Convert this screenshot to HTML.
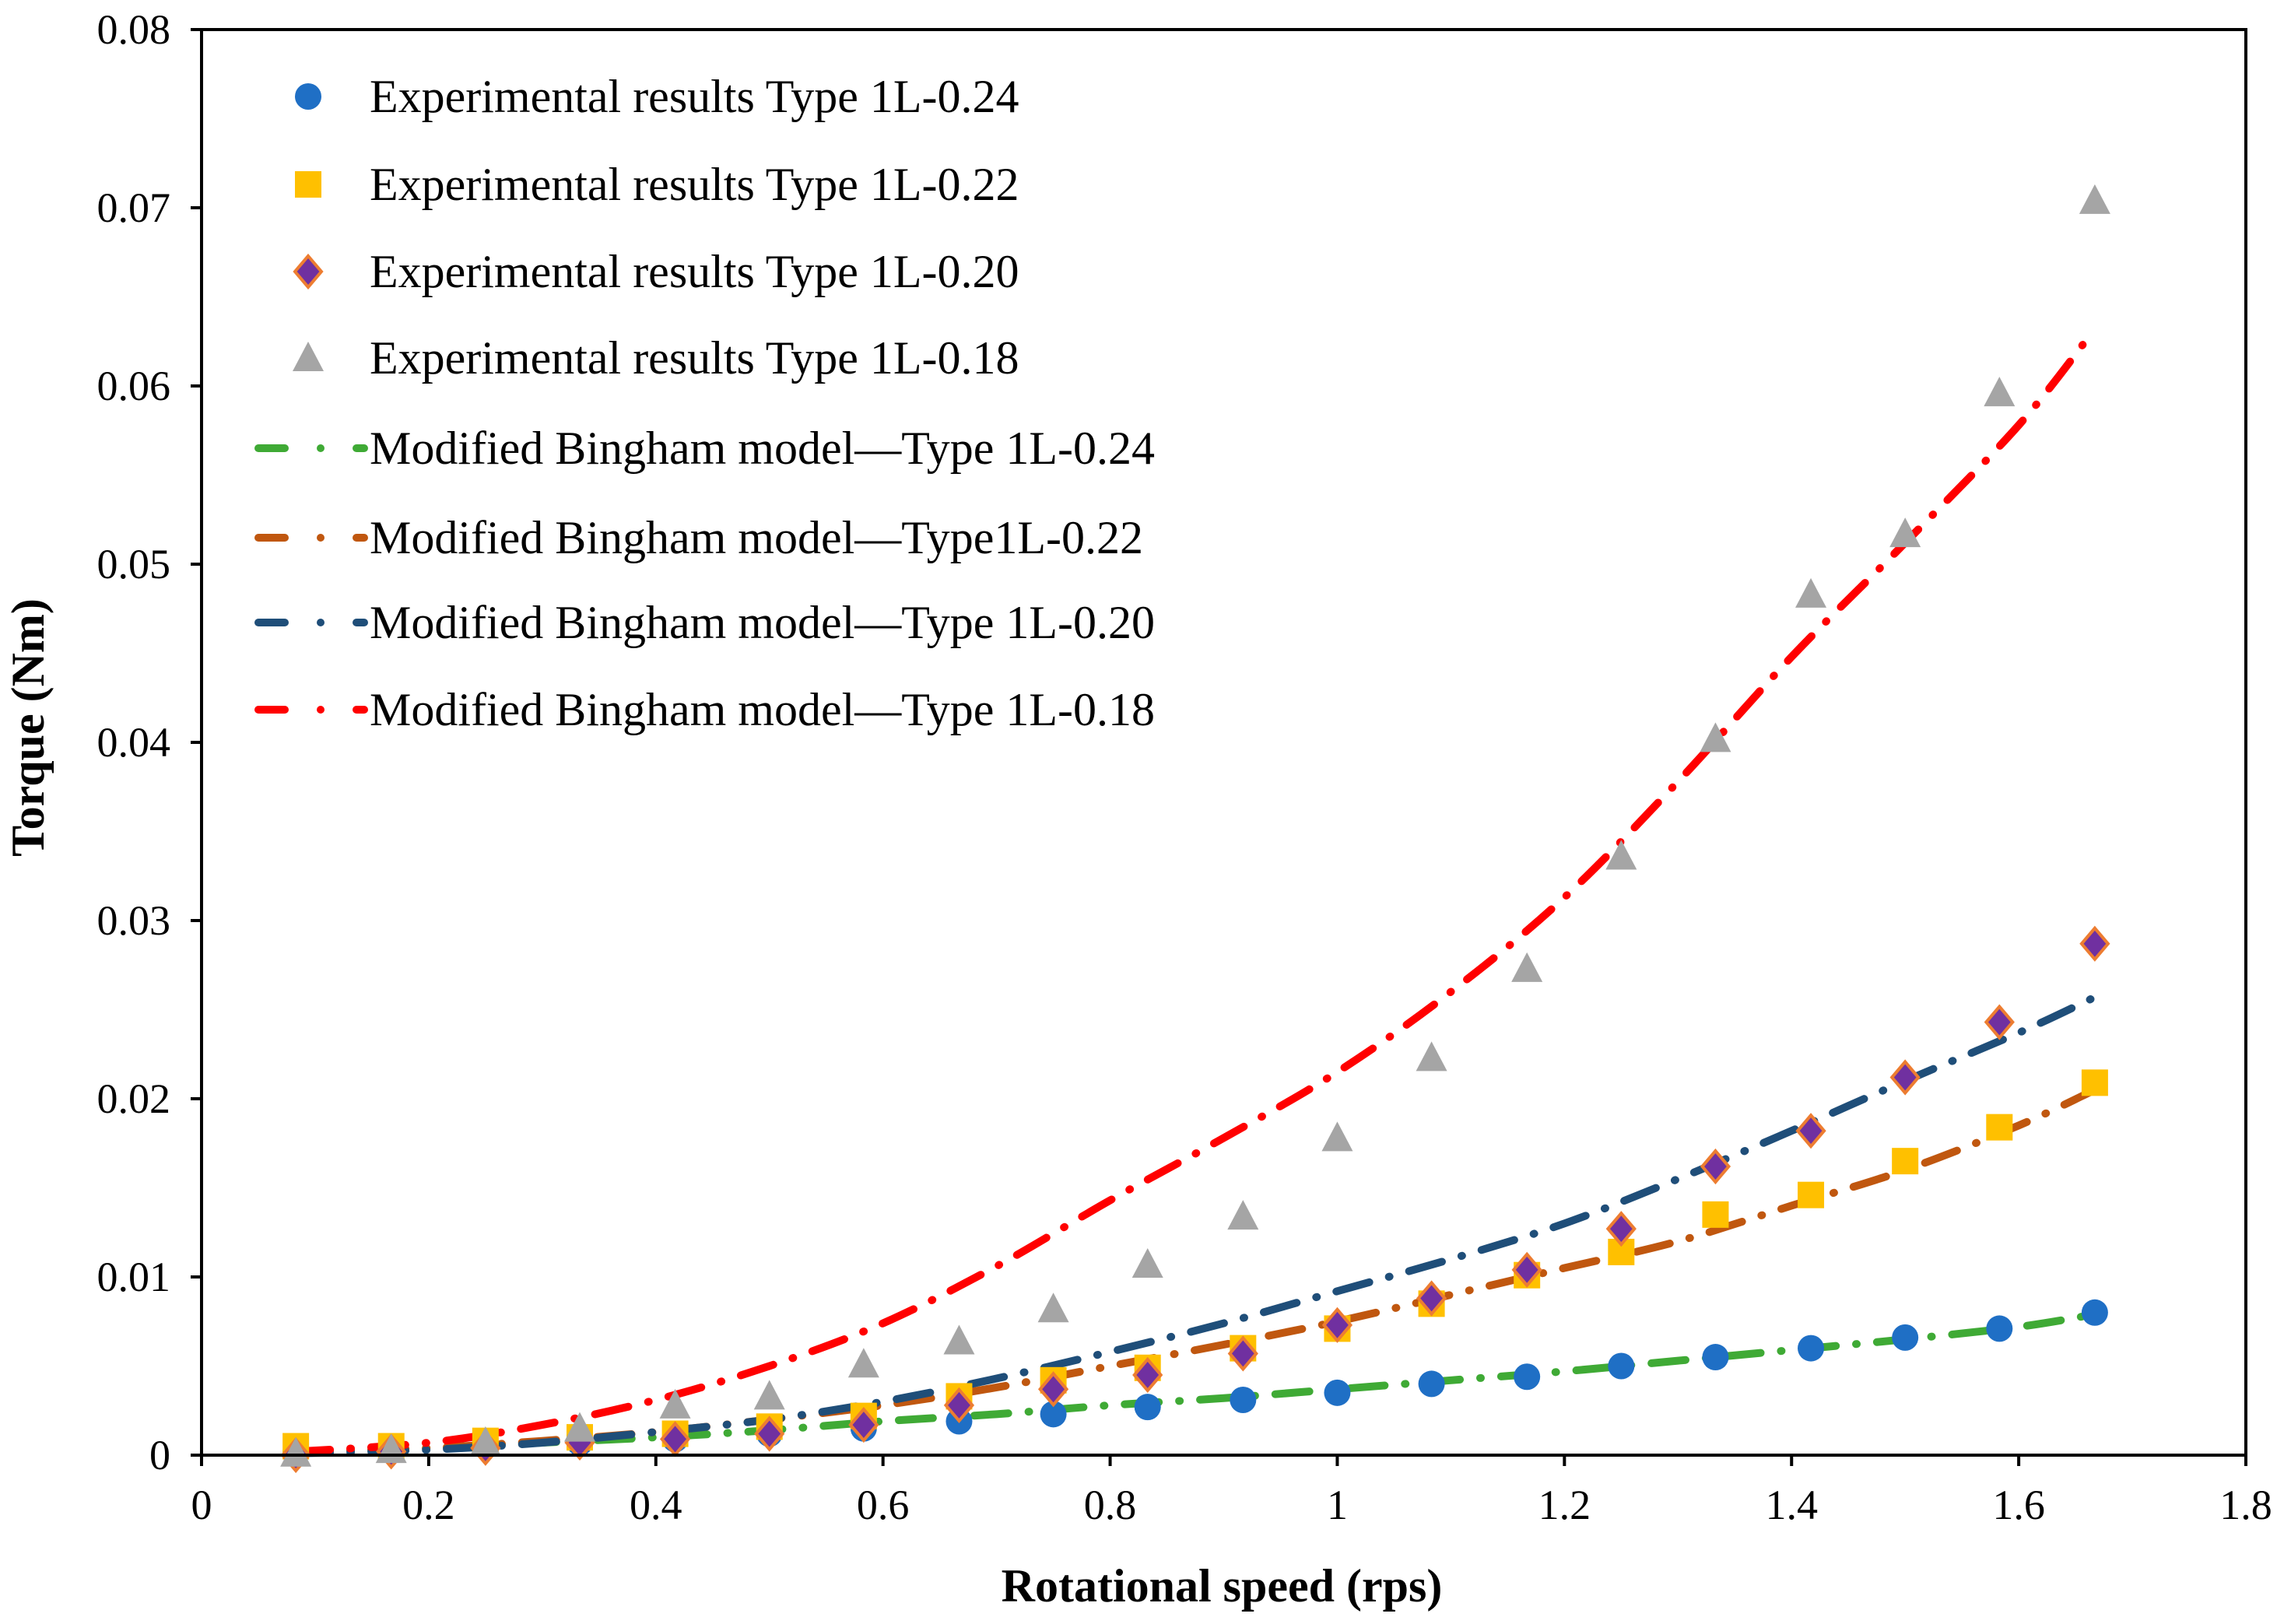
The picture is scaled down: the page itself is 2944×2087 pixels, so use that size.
<!DOCTYPE html>
<html><head><meta charset="utf-8"><style>
html,body{margin:0;padding:0;background:#fff;}
svg{display:block;font-family:"Liberation Serif",serif;}
</style></head><body>
<svg id="chart" width="2944" height="2087" viewBox="0 0 2944 2087" xmlns="http://www.w3.org/2000/svg">
<rect width="2944" height="2087" fill="#fff"/>
<g id="lines"></g>
<g id="points"></g>
<g id="axes"></g>
<g id="legend"></g>
<text x="0" y="0" transform="translate(56,935) rotate(-90)" text-anchor="middle" font-size="60" font-weight="bold">Torque (Nm)</text>
<text x="1570" y="2058" text-anchor="middle" font-size="60" font-weight="bold">Rotational speed (rps)</text>
</svg>
<script>
const xTicks=[0,0.2,0.4,0.6,0.8,1,1.2,1.4,1.6,1.8];
const xTickLabels=["0","0.2","0.4","0.6","0.8","1","1.2","1.4","1.6","1.8"];
const yTicks=[0,0.01,0.02,0.03,0.04,0.05,0.06,0.07,0.08];
const yTickLabels=["0","0.01","0.02","0.03","0.04","0.05","0.06","0.07","0.08"];
const speeds=[0.083,0.167,0.25,0.333,0.417,0.5,0.583,0.667,0.75,0.833,0.917,1.0,1.083,1.167,1.25,1.333,1.417,1.5,1.583,1.667];
const exp024=[0.0002,0.0003,0.0005,0.0007,0.0009,0.0012,0.0015,0.0019,0.0023,0.0027,0.0031,0.0035,0.004,0.0044,0.005,0.0055,0.006,0.0066,0.0071,0.008];
const exp022=[0.0005,0.0005,0.0008,0.001,0.0012,0.0016,0.0022,0.0033,0.0042,0.0049,0.006,0.0071,0.0085,0.0101,0.0114,0.0135,0.0146,0.0165,0.0184,0.0209];
const exp020=[0,0.0002,0.0004,0.0007,0.0009,0.0012,0.0017,0.0028,0.0037,0.0045,0.0057,0.0073,0.0088,0.0104,0.0127,0.0162,0.0182,0.0212,0.0243,0.0287];
const exp018=[0.0001,0.0003,0.0007,0.0015,0.0028,0.0033,0.0051,0.0064,0.0082,0.0107,0.0134,0.0178,0.0223,0.0273,0.0336,0.0402,0.0483,0.0517,0.0596,0.0704];
const modelX=[0.083,0.2,0.3,0.4,0.5,0.6,0.7,0.8,0.9,1.0,1.1,1.2,1.3,1.4,1.5,1.6,1.667];
const model024=[0.0002,0.0004,0.0007,0.001,0.0014,0.0019,0.0023,0.0028,0.0032,0.0037,0.0042,0.0047,0.0053,0.0059,0.0065,0.0072,0.0079];
const model022=[0.0002,0.0004,0.0008,0.0013,0.002,0.0028,0.0038,0.005,0.0062,0.0075,0.009,0.0105,0.012,0.014,0.016,0.0185,0.0205];
const model020=[0.0001,0.0003,0.0007,0.0013,0.002,0.003,0.0043,0.0058,0.0074,0.0092,0.011,0.013,0.0155,0.0182,0.021,0.0237,0.0257];
const model018=[0.0002,0.0007,0.0017,0.0031,0.005,0.0074,0.0106,0.0143,0.0178,0.0215,0.026,0.0313,0.0378,0.0448,0.0512,0.0578,0.0632];

const NS="http://www.w3.org/2000/svg";
const X0=259,X1=2886,Y0=1870,Y1=38;
const xs=v=>X0+(v/1.8)*(X1-X0);
const ys=v=>Y0-(v/0.08)*(Y0-Y1);
function mk(tag,attrs,parent){const e=document.createElementNS(NS,tag);for(const k in attrs)e.setAttribute(k,attrs[k]);parent.appendChild(e);return e;}
const axes=document.getElementById('axes'),lines=document.getElementById('lines'),pts=document.getElementById('points'),leg=document.getElementById('legend');

let fr=mk('rect',{x:X0,y:Y1,width:X1-X0,height:Y0-Y1,fill:'none',stroke:'#000','stroke-width':4},axes);


xTicks.forEach((t,i)=>{
  const tk=mk('line',{x1:xs(t),x2:xs(t),y1:Y0,y2:Y0+14,stroke:'#000','stroke-width':4},axes);
  
  
  const lb=mk('text',{x:xs(t),y:Y0+82,'text-anchor':'middle','font-size':54},axes);
  lb.textContent=xTickLabels[i];
  
  
});
yTicks.forEach((t,i)=>{
  const tk=mk('line',{x1:X0-14,x2:X0,y1:ys(t),y2:ys(t),stroke:'#000','stroke-width':4},axes);
  
  
  const lb=mk('text',{x:X0-40,y:ys(t)+18,'text-anchor':'end','font-size':54},axes);
  lb.textContent=yTickLabels[i];
  
  
});

function smoothPath(xa,ya){
  const p=xa.map((x,i)=>[xs(x),ys(ya[i])]);
  let d=`M${p[0][0]},${p[0][1]}`;
  for(let i=0;i<p.length-1;i++){
    const p0=p[i-1]||p[i],p1=p[i],p2=p[i+1],p3=p[i+2]||p2;
    const c1=[p1[0]+(p2[0]-p0[0])/6,p1[1]+(p2[1]-p0[1])/6];
    const c2=[p2[0]-(p3[0]-p1[0])/6,p2[1]-(p3[1]-p1[1])/6];
    d+=` C${c1[0]},${c1[1]} ${c2[0]},${c2[1]} ${p2[0]},${p2[1]}`;
  }
  return d;
}
const DASH='44 26 1 26';
function modelLine(ya,color,name){
  const e=mk('path',{d:smoothPath(modelX,ya),fill:'none',stroke:color,'stroke-width':10,'stroke-dasharray':DASH,'stroke-linecap':'round'},lines);
  
  
}

function circle(x,y,g){return mk('circle',{cx:x,cy:y,r:17,fill:'#1f6fc5'},g);}
function square(x,y,g){return mk('rect',{x:x-17,y:y-17,width:34,height:34,fill:'#ffc000'},g);}
function diamond(x,y,g){return mk('polygon',{points:`${x},${y-20} ${x+17},${y} ${x},${y+20} ${x-17},${y}`,fill:'#7030a0',stroke:'#ed7d31','stroke-width':4},g);}
function tri(x,y,g){return mk('polygon',{points:`${x},${y-21} ${x+20},${y+17} ${x-20},${y+17}`,fill:'#a5a5a5'},g);}
function series(vals,fn,name){
  vals.forEach((v,i)=>{
    const e=fn(xs(speeds[i]),ys(v),pts);
    
    
  });
}
series(exp024,circle,'point-1l-024');
series(exp022,square,'point-1l-022');
series(exp020,diamond,'point-1l-020');
modelLine(model024,'#3faa35','model-line-1l-024');
modelLine(model022,'#c0570f','model-line-1l-022');
modelLine(model020,'#1f4e79','model-line-1l-020');
series(exp018,tri,'point-1l-018');
modelLine(model018,'#ff0000','model-line-1l-018');

const legRows=[124,237,349,460,576,691,800,912];
const legText=["Experimental results Type 1L-0.24","Experimental results Type 1L-0.22","Experimental results Type 1L-0.20","Experimental results Type 1L-0.18","Modified Bingham model\u2014Type 1L-0.24","Modified Bingham model\u2014Type1L-0.22","Modified Bingham model\u2014Type 1L-0.20","Modified Bingham model\u2014Type 1L-0.18"];
const legMarkers=[circle,square,diamond,tri];
const legColors=['#3faa35','#c0570f','#1f4e79','#ff0000'];
legRows.forEach((y,i)=>{
  const g=mk('g',{},leg);
  
  
  if(i<4){legMarkers[i](396,y,g);}
  else{
    mk('line',{x1:332,x2:366,y1:y,y2:y,stroke:legColors[i-4],'stroke-width':10,'stroke-linecap':'round'},g);
    mk('circle',{cx:412,cy:y,r:5,fill:legColors[i-4]},g);
    mk('line',{x1:458,x2:468,y1:y,y2:y,stroke:legColors[i-4],'stroke-width':10,'stroke-linecap':'round'},g);
  }
  const t=mk('text',{x:475,y:y+20,'font-size':60},g);
  t.textContent=legText[i];
});
</script>
</body></html>
